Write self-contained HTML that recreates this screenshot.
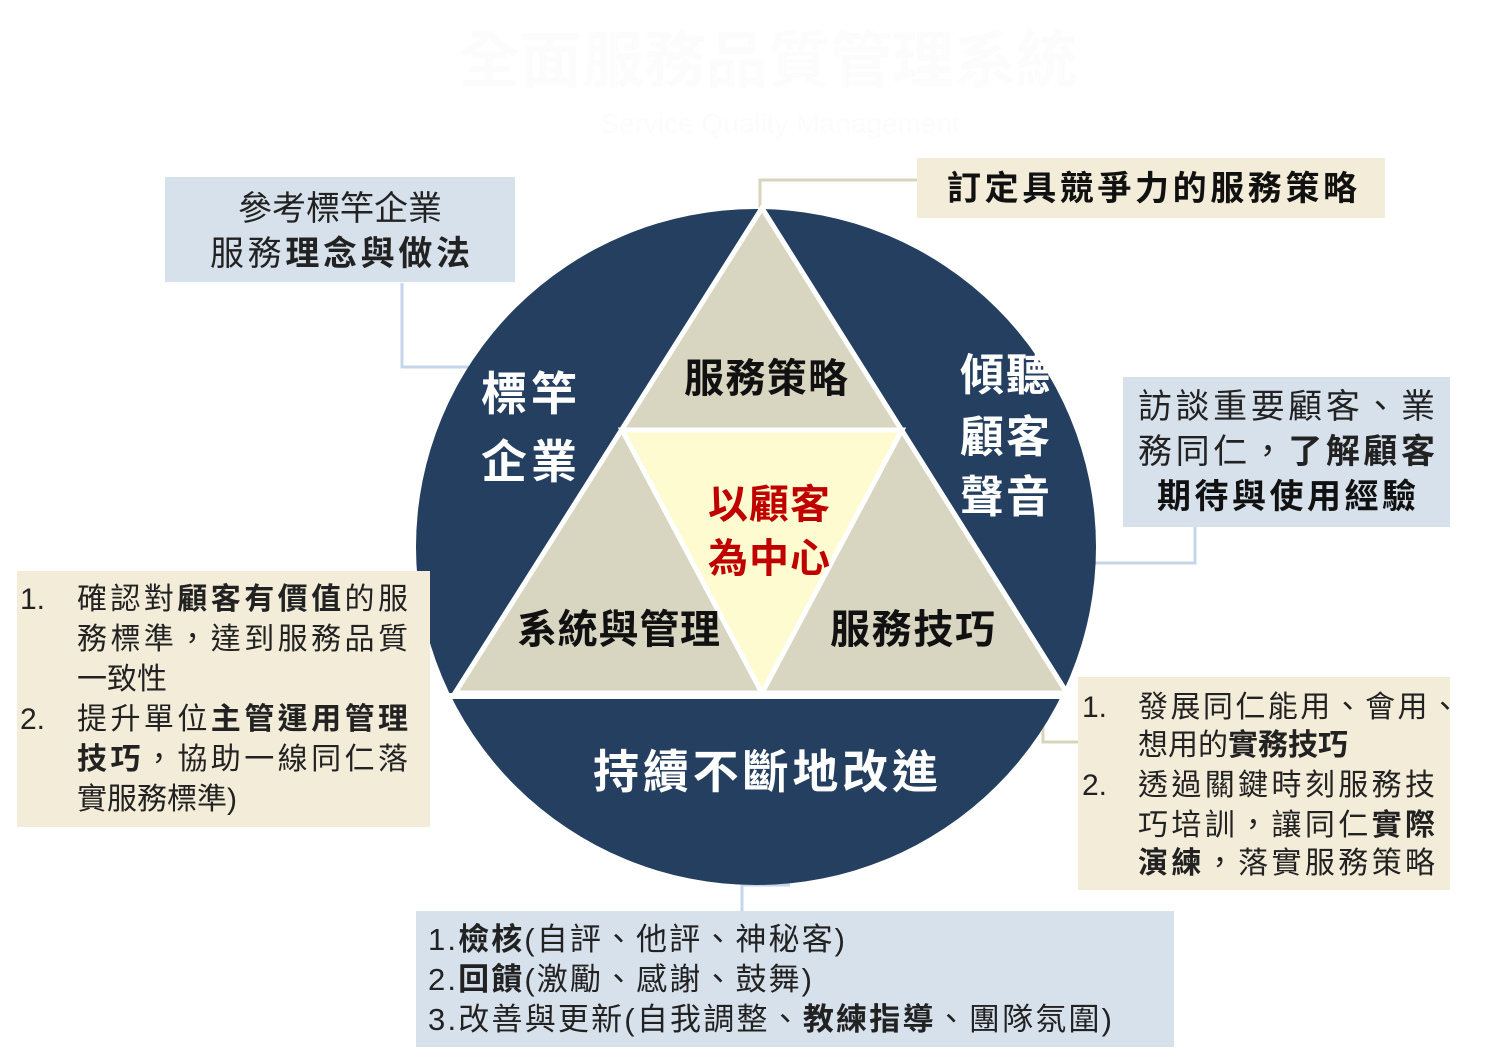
<!DOCTYPE html>
<html><head><meta charset="utf-8"><style>
html,body{margin:0;padding:0;background:#fff;}
svg{display:block;}
text{font-family:"Liberation Sans","Noto Sans CJK TC",sans-serif;}
</style></head><body>
<svg width="1490" height="1059" viewBox="0 0 1490 1059" xmlns="http://www.w3.org/2000/svg">
<rect width="1490" height="1059" fill="#fff"/>
<text x="768" y="82" font-size="62" fill="#fcfcfc" text-anchor="middle" font-weight="bold">全面服務品質管理系統</text>
<text x="780" y="133" font-size="28" fill="#fcfcfc" text-anchor="middle">Service Quality Management</text>

<!-- connectors -->
<g fill="none" stroke-width="3">
<polyline points="402,283 402,367 470,367" stroke="#c5d6ea"/>
<polyline points="917,180 760,180 760,210" stroke="#d9d5bc"/>
<polyline points="1195,527 1195,563 1090,563" stroke="#c5d6ea"/>
<polyline points="430,637 500,637" stroke="#d9d5bc"/>
<polyline points="1078,742 1043,742 1043,700" stroke="#d9d5bc"/>
<polyline points="742,911 742,885 790,885" stroke="#c5d6ea"/>
</g>

<!-- circle -->
<ellipse cx="756" cy="547" rx="340" ry="338" fill="#243f60"/>
<line x1="448" y1="696" x2="1066" y2="696" stroke="#fff" stroke-width="6"/>
<polygon points="762,208 455,693 1067,693" fill="#d8d5c1" stroke="#fff" stroke-width="5" stroke-linejoin="miter"/>
<polygon points="622,430 902,430 762,693" fill="#fdfbcf" stroke="#fff" stroke-width="5"/>

<text x="481" y="410" font-size="46" font-weight="bold" fill="#fff" textLength="96">標竿</text>
<text x="481" y="478" font-size="46" font-weight="bold" fill="#fff" textLength="96">企業</text>
<text x="960" y="390" font-size="44" font-weight="bold" fill="#fff" textLength="90">傾聽</text>
<text x="960" y="452" font-size="44" font-weight="bold" fill="#fff" textLength="90">顧客</text>
<text x="960" y="512" font-size="44" font-weight="bold" fill="#fff" textLength="90">聲音</text>
<text x="684" y="392" font-size="40" font-weight="bold" fill="#111" textLength="164">服務策略</text>
<text x="708" y="518" font-size="40" font-weight="bold" fill="#c00000" textLength="122">以顧客</text>
<text x="708" y="572" font-size="40" font-weight="bold" fill="#c00000" textLength="122">為中心</text>
<text x="517" y="643" font-size="40" font-weight="bold" fill="#111" textLength="203">系統與管理</text>
<text x="830" y="643" font-size="40" font-weight="bold" fill="#111" textLength="165">服務技巧</text>
<text x="593" y="788" font-size="46" font-weight="bold" fill="#fff" textLength="345">持續不斷地改進</text>

<!-- boxes -->
<rect x="165" y="177" width="350" height="105" fill="#d6e1ec"/>
<text x="340" y="220" font-size="34" fill="#222" text-anchor="middle">參考標竿企業</text>
<text x="210" y="265" font-size="34" fill="#222" textLength="260">服務<tspan font-weight="bold">理念與做法</tspan></text>

<rect x="917" y="158" width="468" height="60" fill="#f3ecd8"/>
<text x="947" y="200" font-size="34" font-weight="bold" fill="#111" textLength="410">訂定具競爭力的服務策略</text>

<rect x="1123" y="377" width="327" height="150" fill="#d6e1ec"/>
<text x="1138" y="418" font-size="34" fill="#222" textLength="297">訪談重要顧客、業</text>
<text x="1138" y="463" font-size="34" fill="#222" textLength="297">務同仁，<tspan font-weight="bold">了解顧客</tspan></text>
<text x="1157" y="508" font-size="34" font-weight="bold" fill="#111" textLength="259">期待與使用經驗</text>

<rect x="17" y="571" width="413" height="256" fill="#f3ecd8"/>
<g font-size="30" fill="#222">
<text x="20" y="609">1.</text>
<text x="77" y="609" textLength="331">確認對<tspan font-weight="bold">顧客有價值</tspan>的服</text>
<text x="77" y="649" textLength="331">務標準，達到服務品質</text>
<text x="77" y="689">一致性</text>
<text x="20" y="729">2.</text>
<text x="77" y="729" textLength="331">提升單位<tspan font-weight="bold">主管運用管理</tspan></text>
<text x="77" y="769" textLength="331"><tspan font-weight="bold">技巧</tspan>，協助一線同仁落</text>
<text x="77" y="809">實服務標準)</text>
</g>

<rect x="1078" y="677" width="372" height="213" fill="#f3ecd8"/>
<g font-size="30" fill="#222">
<text x="1082" y="717">1.</text>
<text x="1138" y="717" textLength="322">發展同仁能用、會用、</text>
<text x="1138" y="755"><tspan>想用的</tspan><tspan font-weight="bold">實務技巧</tspan></text>
<text x="1082" y="795">2.</text>
<text x="1138" y="795" textLength="297">透過關鍵時刻服務技</text>
<text x="1138" y="835" textLength="297">巧培訓，讓同仁<tspan font-weight="bold">實際</tspan></text>
<text x="1138" y="873" textLength="297"><tspan font-weight="bold">演練</tspan>，落實服務策略</text>
</g>

<rect x="416" y="911" width="758" height="136" fill="#d6e1ec"/>
<g font-size="31" fill="#222">
<text x="428" y="950" textLength="417">1.<tspan font-weight="bold">檢核</tspan>(自評、他評、神秘客)</text>
<text x="428" y="990" textLength="384">2.<tspan font-weight="bold">回饋</tspan>(激勵、感謝、鼓舞)</text>
<text x="428" y="1030" textLength="684">3.改善與更新(自我調整、<tspan font-weight="bold">教練指導</tspan>、團隊氛圍)</text>
</g>
</svg>
</body></html>
